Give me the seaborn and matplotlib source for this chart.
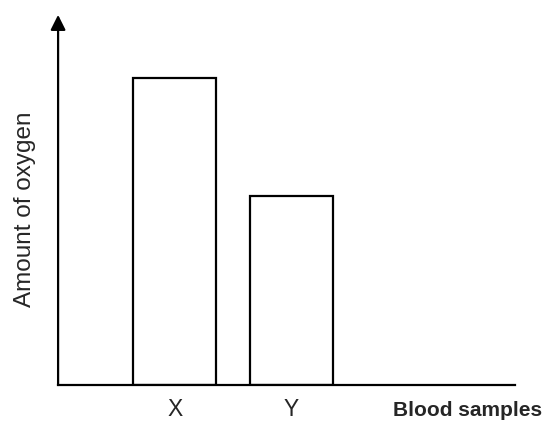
import matplotlib
matplotlib.use("Agg")
import matplotlib.pyplot as plt
import seaborn as sns
import pandas as pd

# data (no scale shown, arbitrary units)
samples = ["X", "Y"]
oxygen = [8.3, 5.1]

df = pd.DataFrame({"sample": samples, "oxygen": oxygen})

sns.set_style("white")
plt.rcParams["font.family"] = ["Liberation Sans", "DejaVu Sans"]

fig = plt.figure(figsize=(5.48, 4.25), dpi=100)
ax = fig.add_axes([0.106, 0.094, 0.834, 0.871])

sns.barplot(data=df, x="sample", y="oxygen", ax=ax, fill=False,
            color="black", linewidth=1.6, width=0.716, err_kws={"linewidth": 0})

ax.set_xlim(-1.0, 2.92)
ax.set_ylim(0, 10)

# only left and bottom axis lines, arrow on the y axis
for s in ["top", "right", "left"]:
    ax.spines[s].set_visible(False)
ax.spines["bottom"].set_linewidth(1.6)
ax.spines["bottom"].set_color("black")
ax.annotate("", xy=(0, 1.0), xytext=(0, 0), xycoords="axes fraction",
            arrowprops=dict(arrowstyle="-|>,head_length=0.9,head_width=0.45",
                            color="black", lw=1.6, shrinkA=0, shrinkB=0))

ax.set_yticks([])
ax.tick_params(axis="x", length=0, labelsize=16.5, pad=9)
ax.set_xlabel("")
ax.set_ylabel("Amount of oxygen", fontsize=17.5)
ax.yaxis.set_label_coords(-0.048, 0.475)

fig.text(0.99, 0.035, "Blood samples", fontsize=15, fontweight="bold",
         ha="right", va="center")

fig.savefig("out.png", dpi=100, facecolor="white")
